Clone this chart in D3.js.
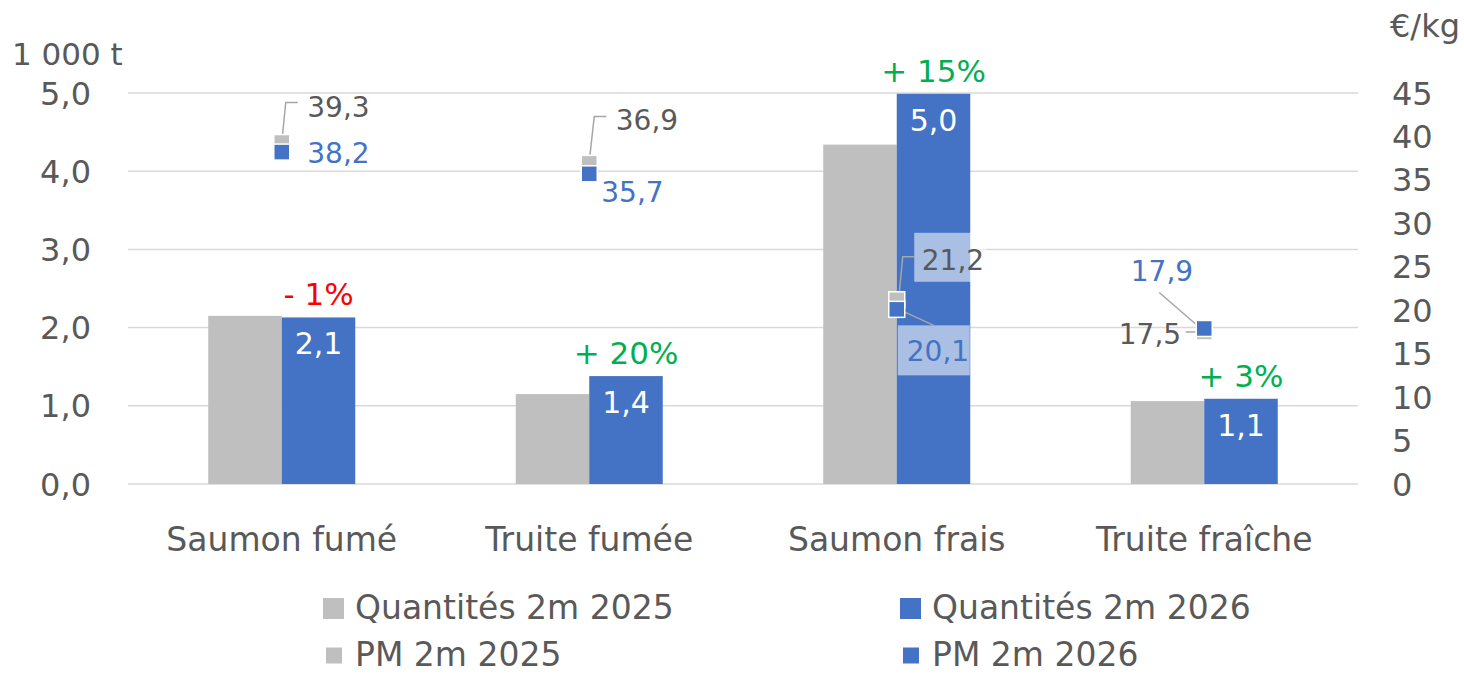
<!DOCTYPE html>
<html>
<head>
<meta charset="utf-8">
<script src="https://cdn.jsdelivr.net/npm/d3@7"></script>
<style>
  body { margin: 0; background: #fff; }
  svg { font-family: "DejaVu Sans", sans-serif; }
</style>
</head>
<body>
<div id="chart"></div>
<script>
// data
const categories = ["Saumon fumé", "Truite fumée", "Saumon frais", "Truite fraîche"];
const qty2025 = [2.15, 1.15, 4.34, 1.06];
const qty2026 = [2.13, 1.38, 4.99, 1.09];
const qtyLabels2026 = ["2,1", "1,4", "5,0", "1,1"];
const changeLabels = ["- 1%", "+ 20%", "+ 15%", "+ 3%"];
const pm2025 = [39.3, 36.9, 21.2, 17.5];
const pm2026 = [38.2, 35.7, 20.1, 17.9];
const leftTicks = [0, 1, 2, 3, 4, 5];
const rightTicks = [0, 5, 10, 15, 20, 25, 30, 35, 40, 45];
const legendItems = ["Quantités 2m 2025", "Quantités 2m 2026", "PM 2m 2025", "PM 2m 2026"];

const W = 1464, H = 675;
const grey = "#BFBFBF", blue = "#4472C4", txt = "#595959", green = "#00B050", red = "#FF0000";
const fmt = v => d3.format(".1f")(v).replace(".", ",");

const svg = d3.select("#chart").append("svg").attr("width", W).attr("height", H);

const x = d3.scaleBand().domain(categories).range([128, 1358]);
const yL = d3.scaleLinear().domain([0, 5]).range([484, 93]);
const yR = d3.scaleLinear().domain([0, 45]).range([484, 93]);
const barW = 73.5;
const cx = c => x(c) + x.bandwidth() / 2;

// gridlines
svg.append("g").selectAll("line").data(leftTicks).join("line")
  .attr("x1", 128).attr("x2", 1358)
  .attr("y1", d => yL(d)).attr("y2", d => yL(d))
  .attr("stroke", "#D9D9D9").attr("stroke-width", 1.5);

// left axis
svg.append("g").selectAll("text").data(leftTicks).join("text")
  .attr("x", 91).attr("y", d => yL(d) + 11.5)
  .attr("text-anchor", "end").attr("font-size", 32).attr("fill", txt)
  .text(d => fmt(d));
svg.append("text").attr("x", 12).attr("y", 65).attr("font-size", 31).attr("fill", txt).text("1 000 t");

// right axis
svg.append("g").selectAll("text").data(rightTicks).join("text")
  .attr("x", 1392).attr("y", d => yR(d) + 11.5)
  .attr("font-size", 32).attr("fill", txt)
  .text(d => d);
svg.append("text").attr("x", 1390).attr("y", 37).attr("font-size", 32).attr("fill", txt).text("€/kg");

// bars
svg.append("g").selectAll("rect").data(categories).join("rect")
  .attr("x", c => cx(c) - barW).attr("width", barW)
  .attr("y", (c, i) => yL(qty2025[i])).attr("height", (c, i) => yL(0) - yL(qty2025[i]))
  .attr("fill", grey);
svg.append("g").selectAll("rect").data(categories).join("rect")
  .attr("x", c => cx(c)).attr("width", barW)
  .attr("y", (c, i) => yL(qty2026[i])).attr("height", (c, i) => yL(0) - yL(qty2026[i]))
  .attr("fill", blue);

// labels inside 2026 bars
svg.append("g").selectAll("text").data(categories).join("text")
  .attr("x", c => cx(c) + barW / 2).attr("y", (c, i) => yL(qty2026[i]) + 37)
  .attr("text-anchor", "middle").attr("font-size", 30).attr("fill", "#fff")
  .text((c, i) => qtyLabels2026[i]);

// change labels above 2026 bars
svg.append("g").selectAll("text").data(categories).join("text")
  .attr("x", c => cx(c) + barW / 2).attr("y", (c, i) => yL(qty2026[i]) - 12)
  .attr("text-anchor", "middle").attr("font-size", 31)
  .attr("fill", (c, i) => changeLabels[i].startsWith("-") ? red : green)
  .text((c, i) => changeLabels[i]);

// price label layout: offsets from the marker centre
const pm25Pos = [
  { dx: 25.5, dy: -25.5, box: null, leader: [[0, 0], [4, -40], [16, -40]] },
  { dx: 26.5, dy: -33, box: null, leader: [[0, -2], [5, -47], [17, -47]] },
  { dx: 25, dy: -30, box: [17.5, -67, 72, 49], leader: [[2, -2], [6, -43], [17.5, -43]] },
  { dx: -85.5, dy: 12, box: null, leader: [[-4, 0], [-18.5, 0]] }
];
const pm26Pos = [
  { dx: 25.5, dy: 11, box: null, leader: null },
  { dx: 12, dy: 28, box: null, leader: null },
  { dx: 10, dy: 52, box: [1, 16, 72, 50], leader: [[0, -1], [37, 16]] },
  { dx: -73.5, dy: -47.7, box: null, leader: [[-3.5, 0], [-45, -36]] }
];

const line = d3.line();
const mk = 16;
function drawPM(values, pos, labelColor) {
  const g = svg.append("g");
  values.forEach((v, i) => {
    const px = cx(categories[i]), py = yR(v);
    const p = pos[i];
    if (p.box) {
      g.append("rect").attr("x", px + p.box[0]).attr("y", py + p.box[1])
        .attr("width", p.box[2]).attr("height", p.box[3])
        .attr("fill", "#fff").attr("fill-opacity", 0.55);
    }
    if (p.leader) {
      g.append("path").attr("d", line(p.leader.map(([a, b]) => [px + a, py + b])))
        .attr("fill", "none").attr("stroke", "#A6A6A6").attr("stroke-width", 1.5);
    }
    g.append("text").attr("x", px + p.dx).attr("y", py + p.dy)
      .attr("font-size", 28).attr("fill", labelColor).text(fmt(v));
  });
}
function drawMarkers(values, color) {
  svg.append("g").selectAll("rect").data(values).join("rect")
    .attr("x", (v, i) => cx(categories[i]) - mk / 2).attr("y", v => yR(v) - mk / 2)
    .attr("width", mk).attr("height", mk)
    .attr("fill", color).attr("stroke", "#fff").attr("stroke-width", 1.5);
}
drawPM(pm2025, pm25Pos, txt);
drawPM(pm2026, pm26Pos, blue);
drawMarkers(pm2025, grey);
drawMarkers(pm2026, blue);

// category labels
svg.append("g").selectAll("text").data(categories).join("text")
  .attr("x", c => cx(c)).attr("y", 551)
  .attr("text-anchor", "middle").attr("font-size", 33).attr("fill", txt)
  .text(c => c);

// legend
const legX = [323, 900], legY = [619, 666];
const lg = svg.append("g");
legendItems.forEach((name, i) => {
  const col = i % 2, row = Math.floor(i / 2);
  const s = row === 0 ? 21 : 16;
  lg.append("rect").attr("x", legX[col] + (row === 0 ? 0 : 3)).attr("y", legY[row] - 10.5 - s / 2)
    .attr("width", s).attr("height", s).attr("fill", col === 0 ? grey : blue);
  lg.append("text").attr("x", legX[col] + 32).attr("y", legY[row])
    .attr("font-size", 33).attr("fill", txt).text(name);
});
</script>
</body>
</html>
